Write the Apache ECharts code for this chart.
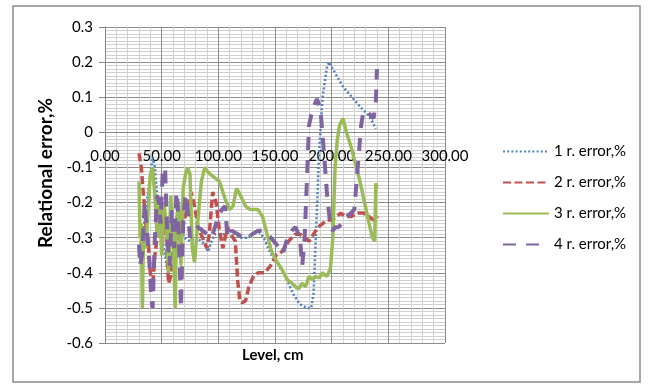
<!DOCTYPE html>
<html>
<head>
<meta charset="utf-8">
<script src="https://cdn.jsdelivr.net/npm/echarts@6/dist/echarts.min.js"></script>
<style>
  html, body { margin: 0; padding: 0; background: #fff; }
  #chart { width: 648px; height: 388px; }
</style>
</head>
<body>
<div id="chart"></div>
<script>
// level (cm) and relational error (%) for each run
var r1Level = [30, 33, 36, 40, 42, 44, 46, 48, 50, 53, 55, 58, 62, 66, 70, 75, 80, 85, 88, 91, 94, 97, 100, 105, 110, 115, 120, 125, 130, 135, 140, 146, 152, 159, 166, 172, 178, 182, 184, 186, 189, 192, 196, 198, 201, 210, 218, 226, 232, 236, 239]
var r1Error = [-0.33, -0.30, -0.22, -0.12, -0.07, -0.10, -0.18, -0.21, -0.30, -0.35, -0.39, -0.32, -0.29, -0.26, -0.30, -0.31, -0.30, -0.31, -0.32, -0.34, -0.31, -0.29, -0.29, -0.29, -0.28, -0.29, -0.30, -0.30, -0.29, -0.28, -0.30, -0.345, -0.37, -0.41, -0.46, -0.49, -0.50, -0.50, -0.46, -0.30, -0.05, 0.10, 0.19, 0.20, 0.18, 0.13, 0.10, 0.07, 0.05, 0.03, 0.01]

var r2Level = [30, 32, 34, 36, 38, 40, 42, 44, 46, 49, 51, 54, 56, 58, 60, 62, 64, 67, 70, 73, 76, 79, 82, 86, 90, 92, 95, 98, 101, 104, 106, 108, 111, 115, 117, 119, 121, 124, 127, 131, 135, 141, 146, 151, 156, 162, 168, 172, 176, 180, 184, 188, 192, 196, 200, 204, 208, 212, 217, 223, 228, 233, 237, 241]
var r2Error = [-0.06, -0.10, -0.18, -0.26, -0.31, -0.40, -0.44, -0.35, -0.30, -0.28, -0.27, -0.30, -0.43, -0.41, -0.34, -0.36, -0.31, -0.29, -0.25, -0.21, -0.17, -0.21, -0.27, -0.30, -0.33, -0.29, -0.17, -0.20, -0.28, -0.33, -0.30, -0.27, -0.29, -0.31, -0.42, -0.48, -0.485, -0.48, -0.44, -0.41, -0.40, -0.40, -0.38, -0.35, -0.34, -0.31, -0.29, -0.29, -0.30, -0.31, -0.29, -0.27, -0.26, -0.25, -0.25, -0.24, -0.23, -0.24, -0.24, -0.23, -0.23, -0.24, -0.25, -0.24]

var r3Level = [30, 31, 32, 33, 34, 36, 38, 40, 42, 44, 46, 48, 50, 52, 54, 56, 58, 60, 62, 63, 65, 67, 69, 71, 73, 75, 77, 79, 82, 85, 88, 90, 93, 97, 101, 106, 110, 113, 116, 118, 121, 124, 128, 131, 135, 139, 143, 147, 152, 156, 161, 165, 168, 171, 174, 177, 180, 183, 186, 189, 192, 196, 199, 201, 203, 205, 207, 210, 213, 217, 221, 225, 229, 233, 236, 238, 239, 240]
var r3Error = [-0.14, -0.30, -0.26, -0.50, -0.28, -0.33, -0.22, -0.12, -0.10, -0.18, -0.30, -0.20, -0.35, -0.20, -0.26, -0.40, -0.18, -0.30, -0.50, -0.25, -0.20, -0.38, -0.16, -0.12, -0.10, -0.12, -0.33, -0.37, -0.25, -0.14, -0.10, -0.11, -0.12, -0.13, -0.14, -0.19, -0.22, -0.21, -0.16, -0.17, -0.19, -0.21, -0.22, -0.22, -0.22, -0.24, -0.29, -0.34, -0.37, -0.39, -0.42, -0.43, -0.44, -0.445, -0.43, -0.44, -0.41, -0.42, -0.41, -0.415, -0.40, -0.41, -0.385, -0.30, -0.10, -0.02, 0.02, 0.04, 0.00, -0.04, -0.09, -0.14, -0.20, -0.26, -0.30, -0.31, -0.145, -0.16]

var r4Level = [30, 31, 33, 35, 37, 39, 41, 42, 44, 46, 48, 49, 51, 53, 55, 57, 59, 61, 63, 64, 66, 67, 69, 71, 73, 75, 78, 82, 86, 90, 94, 97, 100, 103, 106, 108, 112, 117, 122, 126, 130, 135, 139, 144, 149, 154, 157, 161, 165, 168, 172, 174, 176, 178, 180, 182, 185, 187, 190, 193, 196, 199, 201, 203, 206, 209, 213, 217, 220, 223, 226, 228, 231, 234, 237, 239, 240]
var r4Error = [-0.32, -0.38, -0.34, -0.20, -0.28, -0.36, -0.48, -0.50, -0.30, -0.18, -0.21, -0.26, -0.11, -0.10, -0.30, -0.38, -0.22, -0.33, -0.17, -0.20, -0.38, -0.50, -0.25, -0.18, -0.22, -0.30, -0.28, -0.27, -0.28, -0.29, -0.30, -0.27, -0.24, -0.22, -0.21, -0.30, -0.28, -0.29, -0.30, -0.30, -0.29, -0.28, -0.28, -0.29, -0.31, -0.33, -0.345, -0.30, -0.28, -0.27, -0.30, -0.38, -0.31, -0.15, 0.02, 0.05, 0.08, 0.095, 0.07, -0.05, -0.18, -0.27, -0.28, -0.27, -0.27, -0.26, -0.24, -0.23, -0.22, -0.10, 0.02, 0.06, 0.06, 0.05, 0.04, 0.09, 0.18]

var seriesNames = ['1 r. error,%', '2 r. error,%', '3 r. error,%', '4 r. error,%']

function zip(xs, ys) {
  return xs.map(function(x, i) { return [x, ys[i]] })
}

var font = 'Lato'
var chart = echarts.init(document.getElementById('chart'))

chart.setOption({
  animation: false,
  textStyle: { fontFamily: font },
  grid: { left: 105, right: 203, top: 27, bottom: 45 },
  graphic: [
    {
      type: 'rect',
      shape: { x: 13, y: 6, width: 627, height: 376 },
      style: { fill: 'none', stroke: '#8a8a8a', lineWidth: 1.5 },
      silent: true
    },
    {
      type: 'text',
      left: 242,
      top: 348,
      style: { text: 'Level, cm', font: 'bold 15px ' + font, fill: '#000' }
    }
  ],
  legend: {
    orient: 'vertical',
    left: 497,
    top: 139,
    itemWidth: 46,
    itemHeight: 14,
    itemGap: 16,
    itemStyle: { opacity: 0 },
    textStyle: { fontSize: 15, color: '#000', fontFamily: font },
    data: seriesNames
  },
  xAxis: {
    type: 'value',
    min: 0,
    max: 300,
    interval: 50,
    // the axis crosses at error = 0, i.e. 6/9 of the plot height up from the bottom
    offset: -210.7,
    axisLine: { onZero: false, lineStyle: { color: '#868686' } },
    axisTick: { show: false },
    axisLabel: {
      color: '#000',
      fontSize: 15,
      margin: 16,
      formatter: function(v) { return v.toFixed(2) }
    },
    splitLine: { lineStyle: { color: '#8c8c8c' } },
    minorTick: { show: false, splitNumber: 5 },
    minorSplitLine: { show: true, lineStyle: { color: '#d0d0d0' } }
  },
  yAxis: {
    type: 'value',
    min: -0.6,
    max: 0.3,
    interval: 0.1,
    name: 'Relational error,%',
    nameLocation: 'middle',
    nameGap: 48,
    nameTextStyle: { fontWeight: 'bold', fontSize: 19, color: '#000', padding: [0, 0, 0, 24] },
    axisLine: { show: true, lineStyle: { color: '#868686' } },
    axisTick: { show: true, length: 6, lineStyle: { color: '#868686' } },
    axisLabel: {
      color: '#000',
      fontSize: 15,
      margin: 12,
      formatter: function(v) {
        var r = Math.round(v * 10) / 10
        return r === 0 ? '0' : String(r)
      }
    },
    splitLine: { lineStyle: { color: '#8c8c8c' } },
    minorTick: { show: false, splitNumber: 10 },
    minorSplitLine: { show: true, lineStyle: { color: '#d0d0d0' } }
  },
  series: [
    {
      name: seriesNames[0],
      type: 'line',
      symbol: 'none',
      data: zip(r1Level, r1Error),
      lineStyle: { color: '#4F81BD', width: 2.5, type: [2, 2.2] },
      itemStyle: { color: '#4F81BD' }
    },
    {
      name: seriesNames[1],
      type: 'line',
      symbol: 'none',
      data: zip(r2Level, r2Error),
      lineStyle: { color: '#C0504D', width: 3.5, type: [8, 3.5] },
      itemStyle: { color: '#C0504D' }
    },
    {
      name: seriesNames[2],
      type: 'line',
      symbol: 'none',
      data: zip(r3Level, r3Error),
      lineStyle: { color: '#9BBB59', width: 3.5 },
      itemStyle: { color: '#9BBB59' }
    },
    {
      name: seriesNames[3],
      type: 'line',
      symbol: 'none',
      data: zip(r4Level, r4Error),
      lineStyle: { color: '#8064A2', width: 4, type: [13, 10] },
      itemStyle: { color: '#8064A2' }
    }
  ]
})
</script>
</body>
</html>
